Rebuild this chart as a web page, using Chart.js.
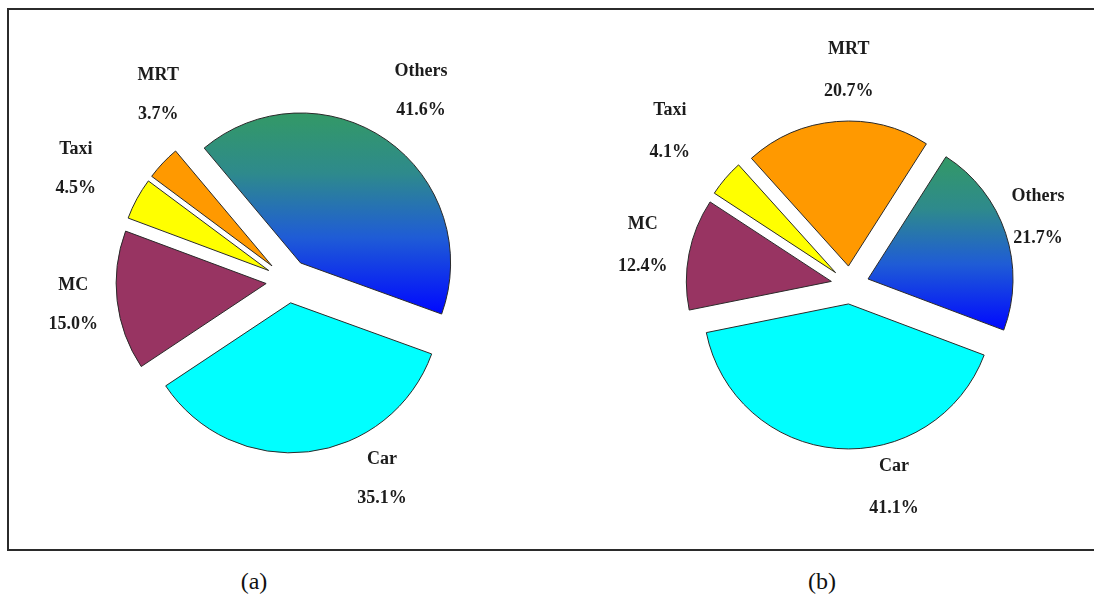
<!DOCTYPE html>
<html lang="en">
<head>
  <meta charset="UTF-8">
  <title>Mode share (a) and (b)</title>
  <script src="https://cdn.jsdelivr.net/npm/chart.js"></script>
  <style>
    body {
      margin: 0;
      width: 1094px;
      height: 600px;
      overflow: hidden;
      background: #FFFFFF;
      position: relative;
      font-family: 'Liberation Serif', 'Times New Roman', serif;
    }

    .frame {
      position: absolute;
      left: 7px;
      top: 8px;
      width: 1100px;
      height: 539px;
      border: 2px solid #2b2b2b;
      border-right: none;
    }

    .pie {
      position: absolute;
    }

    #pieA { left: 18px; top: 21px; }
    #pieB { left: 580px; top: 25px; }

    .caption {
      position: absolute;
      top: 568px;
      width: 80px;
      text-align: center;
      font-size: 24px;
      color: #111;
    }
  </style>
</head>
<body>
  <div class="frame"></div>
  <canvas id="pieA" class="pie" width="540" height="520"></canvas>
  <canvas id="pieB" class="pie" width="540" height="520"></canvas>
  <div class="caption" id="capA" style="left: 214px;"></div>
  <div class="caption" id="capB" style="left: 782px;"></div>

  <script>
    // data
    const categoriesA = ['Others', 'Car', 'MC', 'Taxi', 'MRT'];
    const sharesA = [41.6, 35.1, 15.0, 4.5, 3.7];

    const categoriesB = ['MRT', 'Others', 'Car', 'MC', 'Taxi'];
    const sharesB = [20.7, 21.7, 41.1, 12.4, 4.1];

    const panelLabels = ['(a)', '(b)'];

    const modeColors = {
      Car: '#00FFFF',
      MC: '#983462',
      Taxi: '#FFFF00',
      MRT: '#FF9900'
    };

    // label placement: angle tweak (deg) from slice middle, and distance from centre
    const labelTweakA = [0, -18.6, 0.3, -0.7, 11.8];
    const labelDistA = [232, 219, 216, 240, 227];
    const labelTweakB = [4.4, -1.5, -16.9, -0.2, -0.1];
    const labelDistB = [215, 200, 207, 211, 237];

    document.getElementById('capA').textContent = panelLabels[0];
    document.getElementById('capB').textContent = panelLabels[1];

    const deg = Math.PI / 180;

    // gradient for the "Others" slice, spanning the slice's vertical extent
    function othersGradient(chart, values, index, rotation, radius, explode) {
      const area = chart.chartArea;
      if (!area) return '#2E86AB';
      const cx = (area.left + area.right) / 2;
      const cy = (area.top + area.bottom) / 2;
      const total = values.reduce((a, b) => a + b, 0);
      let before = 0;
      for (let i = 0; i < index; i++) before += values[i];
      const a0 = rotation + 360 * before / total;
      const a1 = a0 + 360 * values[index] / total;
      const mid = (a0 + a1) / 2;
      const shiftY = -Math.cos(mid * deg) * explode;
      let ymin = cy + shiftY, ymax = cy + shiftY;
      for (let k = 0; k <= 60; k++) {
        const a = a0 + (a1 - a0) * k / 60;
        const y = cy - Math.cos(a * deg) * radius + shiftY;
        ymin = Math.min(ymin, y);
        ymax = Math.max(ymax, y);
      }
      const g = chart.ctx.createLinearGradient(0, ymin, 0, ymax);
      g.addColorStop(0, '#339966');
      g.addColorStop(0.3, '#2E8A8C');
      g.addColorStop(0.62, '#1F5CD6');
      g.addColorStop(1, '#0008FF');
      return g;
    }

    // pull every slice out along its middle angle
    const explodePlugin = {
      id: 'explode',
      afterDatasetsUpdate(chart) {
        const d = chart.options.plugins.explode.distance;
        chart.getDatasetMeta(0).data.forEach(arc => {
          const mid = (arc.startAngle + arc.endAngle) / 2;
          arc.x += Math.cos(mid) * d;
          arc.y += Math.sin(mid) * d;
        });
      }
    };

    // two-line labels (name, share) outside each slice
    const sliceLabels = {
      id: 'sliceLabels',
      afterDatasetsDraw(chart) {
        const opts = chart.options.plugins.sliceLabels;
        const ctx = chart.ctx;
        const area = chart.chartArea;
        const cx = (area.left + area.right) / 2;
        const cy = (area.top + area.bottom) / 2;
        const ds = chart.data.datasets[0];
        ctx.save();
        ctx.font = 'bold 18px "Liberation Serif", "Times New Roman", serif';
        ctx.fillStyle = '#1c1c1c';
        ctx.textAlign = 'center';
        ctx.textBaseline = 'middle';
        chart.getDatasetMeta(0).data.forEach((arc, i) => {
          const a = (arc.startAngle + arc.endAngle) / 2 + opts.tweak[i] * deg;
          const x = cx + Math.cos(a) * opts.dist[i];
          const y = cy + Math.sin(a) * opts.dist[i];
          ctx.fillText(chart.data.labels[i], x, y - opts.gap / 2);
          ctx.fillText(ds.data[i].toFixed(1) + '%', x, y + opts.gap / 2);
        });
        ctx.restore();
      }
    };

    function makePie(id, labels, values, rotation, radius, explode, tweak, dist, gap) {
      new Chart(document.getElementById(id), {
        type: 'pie',
        data: {
          labels: labels,
          datasets: [{
            data: values,
            backgroundColor: (c) => {
              const name = labels[c.dataIndex];
              if (name === 'Others') {
                return othersGradient(c.chart, values, c.dataIndex, rotation, radius, explode);
              }
              return modeColors[name];
            },
            borderColor: '#2a2a2a',
            borderWidth: 1
          }]
        },
        options: {
          responsive: false,
          animation: false,
          events: [],
          rotation: rotation,
          radius: radius,
          layout: { padding: 0 },
          plugins: {
            legend: { display: false },
            tooltip: { enabled: false },
            explode: { distance: explode },
            sliceLabels: { tweak: tweak, dist: dist, gap: gap }
          }
        },
        plugins: [explodePlugin, sliceLabels]
      });
    }

    makePie('pieA', categoriesA, sharesA, -40, 150, 22, labelTweakA, labelDistA, 39);
    makePie('pieB', categoriesB, sharesB, -42, 145, 19, labelTweakB, labelDistB, 42);
  </script>
</body>
</html>
